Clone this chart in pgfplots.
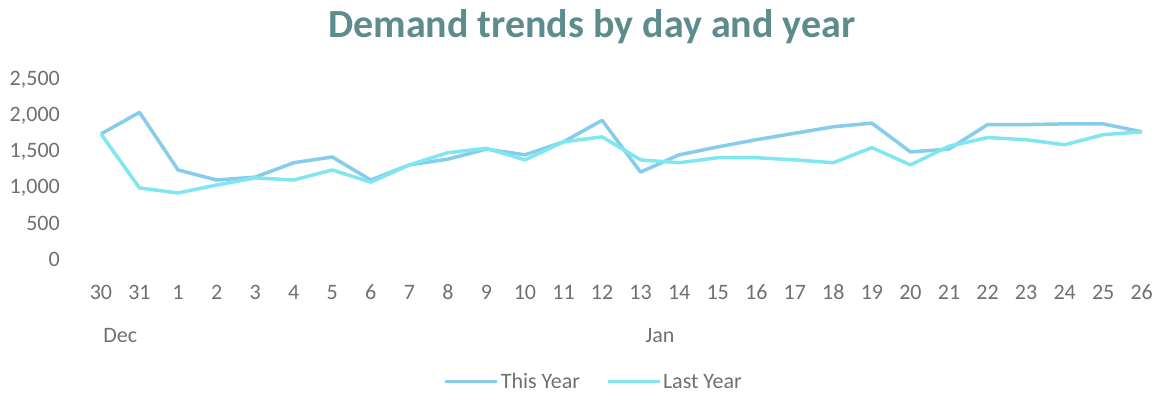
\documentclass[border=0pt]{standalone}
\usepackage{pgfplots}
\pgfplotsset{compat=1.18}
\usepackage{fontspec}
\setmainfont{Carlito}
\definecolor{thisyr}{HTML}{86CDEB}
\definecolor{lastyr}{HTML}{80E6F0}
\definecolor{ttl}{HTML}{5E8C8C}
\definecolor{tk}{HTML}{707070}
\begin{document}
\begin{tikzpicture}
\begin{axis}[
  scale only axis,
  width=1079.7pt, height=180pt,
  xmin=-0.5, xmax=27.5, ymin=0, ymax=2500,
  axis line style={draw=none},
  tick style={draw=none},
  xtick={0,...,27},
  xticklabels={30,31,1,2,3,4,5,6,7,8,9,10,11,12,13,14,15,16,17,18,19,20,21,22,23,24,25,26},
  ytick={0,500,1000,1500,2000,2500},
  /pgf/number format/1000 sep={,},
  /pgf/number format/assume math mode=true,
  xticklabel style={anchor=base, yshift=-40pt, inner sep=0pt, font=\fontsize{22}{26}\selectfont, text=tk},
  yticklabel style={anchor=east, inner sep=0pt, xshift=-21.7pt, font=\fontsize{22}{26}\selectfont, text=tk},
  clip=false,
  legend columns=2,
  legend style={at={(0.4745,-0.678)}, anchor=center, draw=none, fill=none,
    font=\fontsize{22}{26}\selectfont, text=tk,
    /tikz/every even column/.append style={column sep=24pt}},
  legend image code/.code={\draw[#1, line width=3pt] (0pt,0pt) -- (52pt,0pt);},
]
\addplot[thisyr, line width=3.5pt, line join=round] coordinates {
(0,1750) (1,2050) (2,1250) (3,1110) (4,1150) (5,1350) (6,1430) (7,1110)
(8,1320) (9,1400) (10,1540) (11,1460) (12,1640) (13,1940) (14,1220) (15,1460)
(16,1570) (17,1670) (18,1760) (19,1850) (20,1900) (21,1500) (22,1540) (23,1880)
(24,1880) (25,1890) (26,1890) (27,1780)};
\addlegendentry{This Year}
\addplot[lastyr, line width=3.5pt, line join=round] coordinates {
(0,1750) (1,1000) (2,930) (3,1040) (4,1140) (5,1110) (6,1250) (7,1080)
(8,1320) (9,1490) (10,1550) (11,1390) (12,1640) (13,1710) (14,1390) (15,1350)
(16,1420) (17,1420) (18,1390) (19,1350) (20,1560) (21,1320) (22,1580) (23,1700)
(24,1670) (25,1600) (26,1740) (27,1780)};
\addlegendentry{Last Year}
\node[anchor=base, text=tk, font=\fontsize{22}{26}\selectfont] at (axis cs:0.5,0) [yshift=-83pt] {Dec};
\node[anchor=base, text=tk, font=\fontsize{22}{26}\selectfont] at (axis cs:14.5,0) [yshift=-83pt] {Jan};
\end{axis}
\node[anchor=base, text=ttl, font=\fontsize{40}{48}\selectfont\bfseries, inner sep=0pt] at (510.3pt,222pt) {Demand trends by day and year};
\path[use as bounding box] (-81.7pt,-136pt) rectangle (1079.3pt,260pt);
\end{tikzpicture}
\end{document}
